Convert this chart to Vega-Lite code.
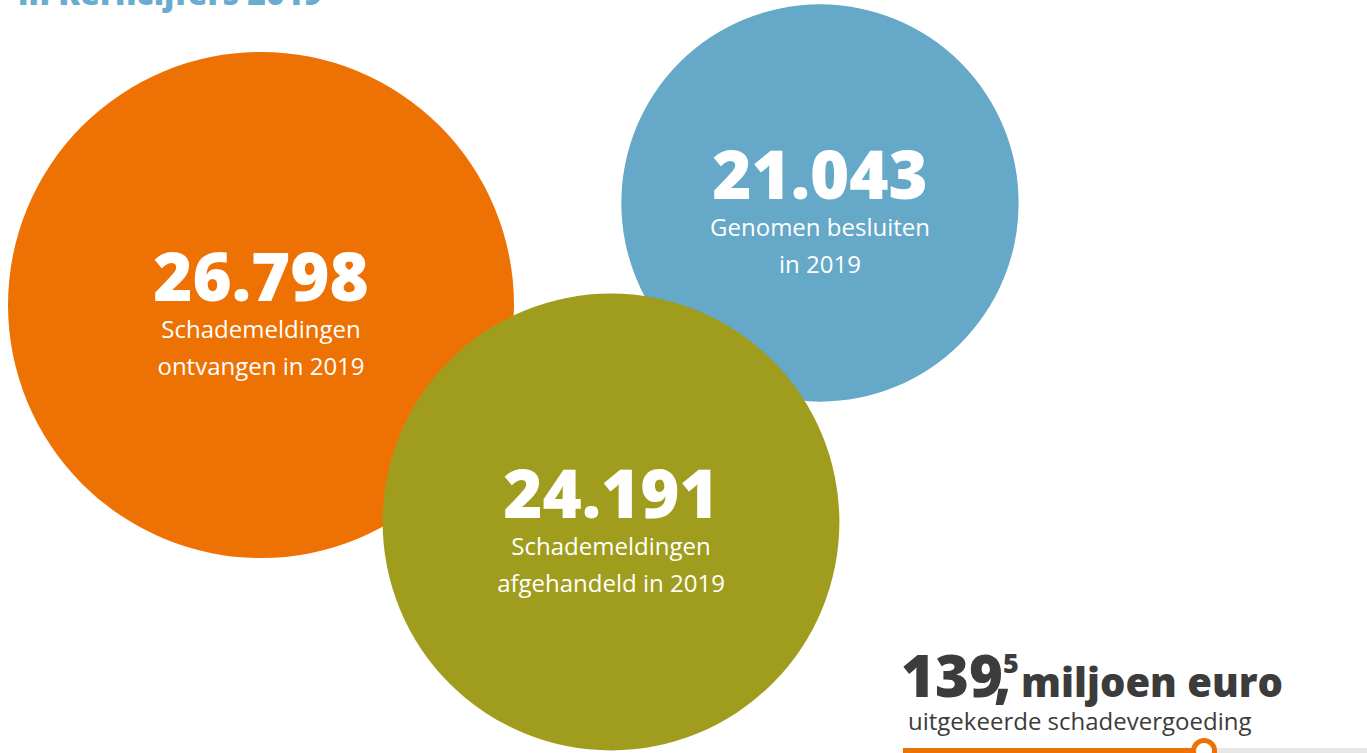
{
  "$schema": "https://vega.github.io/schema/vega-lite/v6.json",
  "width": 1367,
  "height": 753,
  "padding": 0,
  "autosize": {"type": "fit", "contains": "padding"},
  "background": "white",
  "datasets": {
    "kerncijfers": [
      {"categorie": "ontvangen", "aantal": 26798, "cx": 261, "cy": 305, "regel1": "Schademeldingen", "regel2": "ontvangen in 2019"},
      {"categorie": "besluiten", "aantal": 21043, "cx": 820, "cy": 203, "regel1": "Genomen besluiten", "regel2": "in 2019"},
      {"categorie": "afgehandeld", "aantal": 24191, "cx": 611, "cy": 522, "regel1": "Schademeldingen", "regel2": "afgehandeld in 2019"}
    ],
    "vergoeding": [
      {"omschrijving": "uitgekeerde schadevergoeding", "start": 0, "miljoen": 139.5, "max": 215, "y": 751}
    ]
  },
  "resolve": {"scale": {"x": "independent"}},
  "layer": [
    {
      "layer": [
        {
          "data": {"name": "kerncijfers"},
          "encoding": {
            "x": {"field": "cx", "type": "quantitative", "scale": {"domain": [0, 1367], "nice": false, "zero": false}, "axis": null},
            "y": {"field": "cy", "type": "quantitative", "scale": {"domain": [0, 753], "nice": false, "zero": false, "reverse": true}, "axis": null}
          },
          "layer": [
            {
              "mark": {"type": "circle", "opacity": 1, "clip": true},
              "encoding": {
                "size": {"field": "aantal", "type": "quantitative", "scale": {"type": "pow", "exponent": 2, "domain": [0, 26798], "range": [0, 256036]}, "legend": null},
                "color": {"field": "categorie", "type": "nominal", "scale": {"domain": ["ontvangen", "besluiten", "afgehandeld"], "range": ["#EE7203", "#65A8C7", "#A09D1E"]}, "legend": null}
              }
            },
            {
              "mark": {"type": "text", "font": "Open Sans", "fontSize": 67, "fontWeight": 800, "color": "white", "align": "center", "baseline": "alphabetic", "dy": -4},
              "encoding": {"text": {"field": "aantal", "type": "quantitative", "format": ",d"}}
            },
            {
              "mark": {"type": "text", "font": "Open Sans", "fontSize": 24, "fontWeight": 400, "color": "white", "align": "center", "baseline": "alphabetic", "dy": 33},
              "encoding": {"text": {"field": "regel1", "type": "nominal"}}
            },
            {
              "mark": {"type": "text", "font": "Open Sans", "fontSize": 24, "fontWeight": 400, "color": "white", "align": "center", "baseline": "alphabetic", "dy": 70},
              "encoding": {"text": {"field": "regel2", "type": "nominal"}}
            }
          ]
        },
        {
          "data": {"values": [{"tekst": "in Kerncijfers 2019", "x": 18, "y": 5}]},
          "mark": {"type": "text", "font": "Open Sans", "fontSize": 32, "fontWeight": 800, "color": "#69ACD0", "align": "left", "baseline": "alphabetic", "clip": true},
          "encoding": {
            "x": {"field": "x", "type": "quantitative", "axis": null},
            "y": {"field": "y", "type": "quantitative", "axis": null},
            "text": {"field": "tekst", "type": "nominal"}
          }
        },
        {
          "data": {"values": [{"tekst": "139", "x": 901, "y": 697}]},
          "mark": {"type": "text", "font": "Open Sans", "fontSize": 58, "fontWeight": 800, "color": "#3C3C3B", "align": "left", "baseline": "alphabetic"},
          "encoding": {
            "x": {"field": "x", "type": "quantitative", "axis": null},
            "y": {"field": "y", "type": "quantitative", "axis": null},
            "text": {"field": "tekst", "type": "nominal"}
          }
        },
        {
          "data": {"values": [{"tekst": ",", "x": 994, "y": 697}]},
          "mark": {"type": "text", "font": "Open Sans", "fontSize": 56, "fontWeight": 800, "color": "#3C3C3B", "align": "left", "baseline": "alphabetic"},
          "encoding": {
            "x": {"field": "x", "type": "quantitative", "axis": null},
            "y": {"field": "y", "type": "quantitative", "axis": null},
            "text": {"field": "tekst", "type": "nominal"}
          }
        },
        {
          "data": {"values": [{"tekst": "5", "x": 1003, "y": 673}]},
          "mark": {"type": "text", "font": "Open Sans", "fontSize": 27, "fontWeight": 800, "color": "#3C3C3B", "align": "left", "baseline": "alphabetic"},
          "encoding": {
            "x": {"field": "x", "type": "quantitative", "axis": null},
            "y": {"field": "y", "type": "quantitative", "axis": null},
            "text": {"field": "tekst", "type": "nominal"}
          }
        },
        {
          "data": {"values": [{"tekst": "miljoen euro", "x": 1021, "y": 697}]},
          "mark": {"type": "text", "font": "Open Sans", "fontSize": 40, "fontWeight": 800, "color": "#3C3C3B", "align": "left", "baseline": "alphabetic"},
          "encoding": {
            "x": {"field": "x", "type": "quantitative", "axis": null},
            "y": {"field": "y", "type": "quantitative", "axis": null},
            "text": {"field": "tekst", "type": "nominal"}
          }
        },
        {
          "data": {"values": [{"tekst": "uitgekeerde schadevergoeding", "x": 908, "y": 730}]},
          "mark": {"type": "text", "font": "Open Sans", "fontSize": 24, "fontWeight": 400, "color": "#3C3C3B", "align": "left", "baseline": "alphabetic"},
          "encoding": {
            "x": {"field": "x", "type": "quantitative", "axis": null},
            "y": {"field": "y", "type": "quantitative", "axis": null},
            "text": {"field": "tekst", "type": "nominal"}
          }
        }
      ]
    },
    {
      "data": {"name": "vergoeding"},
      "layer": [
        {
          "mark": {"type": "rule", "color": "#E6E6E6", "strokeWidth": 6, "clip": true},
          "encoding": {
            "x": {"field": "start", "type": "quantitative", "scale": {"domain": [0, 215], "range": [903, 1367], "nice": false, "zero": false}, "axis": null},
            "x2": {"field": "max"},
            "y": {"field": "y", "type": "quantitative", "axis": null}
          }
        },
        {
          "mark": {"type": "rule", "color": "#EE7203", "strokeWidth": 6, "clip": true},
          "encoding": {
            "x": {"field": "start", "type": "quantitative", "axis": null},
            "x2": {"field": "miljoen"},
            "y": {"field": "y", "type": "quantitative", "axis": null}
          }
        },
        {
          "mark": {"type": "circle", "fill": "white", "stroke": "#EE7203", "strokeWidth": 5, "opacity": 1, "size": 441, "clip": true},
          "encoding": {
            "x": {"field": "miljoen", "type": "quantitative", "axis": null},
            "y": {"field": "y", "type": "quantitative", "axis": null}
          }
        }
      ]
    }
  ],
  "config": {
    "view": {"stroke": null},
    "locale": {"number": {"decimal": ",", "thousands": ".", "grouping": [3], "currency": ["€ ", ""]}}
  }
}
